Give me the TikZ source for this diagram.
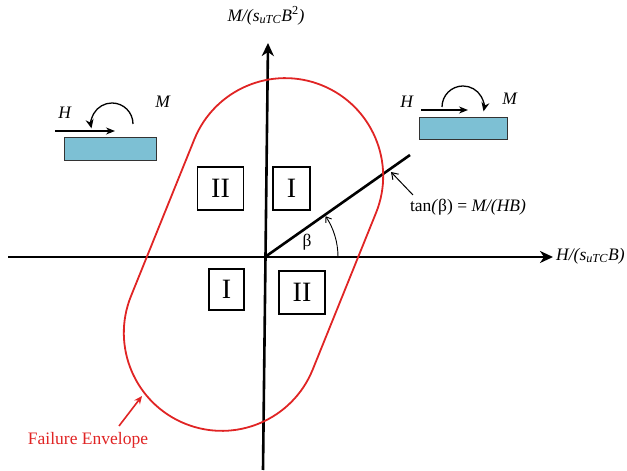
\documentclass[tikz,border=0pt]{standalone}
\usepackage{fontspec}
\setmainfont{Liberation Serif}
\usetikzlibrary{arrows.meta}
\definecolor{envred}{HTML}{E02424}
\definecolor{footblue}{HTML}{7DC0D4}
\begin{document}
\begin{tikzpicture}[x=1pt,y=1pt,
  axis/.style={line width=2.6pt,-{Stealth[length=13pt,width=12pt,inset=4pt]}},
  zonebox/.style={draw,line width=1.4pt,minimum height=43pt,inner sep=0pt,font=\fontsize{28}{30}\selectfont},
  lbl/.style={font=\fontsize{17.5}{20}\selectfont,inner sep=1pt},
  footing/.style={draw=black!80,line width=1pt,fill=footblue},
  force/.style={line width=1.3pt,-{Stealth[length=9pt,width=7pt]}}]
\useasboundingbox (0,0) rectangle (627,471);
% axes
\coordinate (O) at (265,214);
\coordinate (vb) at (263,1);
\coordinate (vt) at (268,428);
\coordinate (hl) at (8,214);
\coordinate (hr) at (553,214);
\draw[axis] (vb) -- (vt);
\draw[axis] (hl) -- (hr);
\node[lbl,anchor=south] (mlab) at (266,445) {\textit{M/(s}\textsubscript{\textit{uTC}}\textit{B}\textsuperscript{2}\textit{)}};
\node[lbl,anchor=west] (hlab) at (555,215) {\textit{H/(s}\textsubscript{\textit{uTC}}\textit{B)}};
% beta line
\coordinate (bl) at (410,316);
\draw[line width=2.6pt] (O) -- (bl);
\draw[line width=0.9pt,-{Straight Barb[length=5pt,width=7pt]}] ([shift={(0:73)}]O) arc[start angle=0,end angle=34,radius=73];
\node[lbl] (beta) at (307,229) {β};
% tan label
\node[lbl] (tanlab) at (468,264) {tan\textit{(}β) = \textit{M/(HB)}};
\coordinate (tantail) at (413,276);
\coordinate (tantip) at (391,299);
\draw[line width=1pt,-{Straight Barb[length=6pt,width=8pt]}] (tantail) -- (tantip);
% envelope
\draw[envred,line width=1.8pt,shift={(253.5,216.5)},rotate=68]
  (84.5,-98) arc[start angle=-90,end angle=90,radius=98] -- (-84.5,98)
  arc[start angle=90,end angle=270,radius=98] -- cycle;
\node[lbl,text=envred] (fe) at (88,31) {Failure Envelope};
\coordinate (fetail) at (119,45);
\coordinate (fetip) at (142,75);
\draw[envred,line width=1.6pt,-{Stealth[length=8pt,width=7pt]}] (fetail) -- (fetip);
% zone boxes
\node[zonebox,minimum width=46pt] (z1) at (220.5,282.5) {II};
\node[zonebox,minimum width=37pt] (z2) at (291.5,282.5) {I};
\node[zonebox,minimum width=35pt,minimum height=41pt] (z3) at (226.5,181.5) {I};
\node[zonebox,minimum width=46pt] (z4) at (302,178.5) {II};
% left footing
\node[footing,minimum width=92pt,minimum height=23pt,inner sep=0pt] (f1) at (110,321.5) {};
\coordinate (h1a) at (55,340);
\coordinate (h1b) at (115,340);
\draw[force] (h1a) -- (h1b);
\node[lbl] (H1) at (65,358) {\textit{H}};
\draw[line width=1.3pt,-{Stealth[length=9pt,width=8pt]}] (133,347) arc[start angle=0,end angle=192,radius=21];
\node[lbl] (M1) at (163,369) {\textit{M}};
% right footing
\node[footing,minimum width=88pt,minimum height=22pt,inner sep=0pt] (f2) at (463,342) {};
\coordinate (h2a) at (421,361);
\coordinate (h2b) at (468,361);
\draw[force] (h2a) -- (h2b);
\node[lbl] (H2) at (407,369) {\textit{H}};
\draw[line width=1.3pt,-{Stealth[length=9pt,width=8pt]}] (442,364) arc[start angle=180,end angle=-12,radius=21];
\node[lbl] (M2) at (510,372) {\textit{M}};
\end{tikzpicture}
\end{document}
